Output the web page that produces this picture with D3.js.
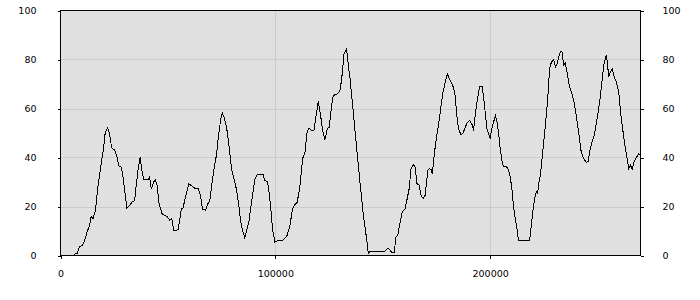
<!DOCTYPE html>
<html><head><meta charset="utf-8">
<script src="https://cdn.jsdelivr.net/npm/d3@7"></script>
<style>
html,body{margin:0;padding:0;background:#fff;}
svg{display:block;}
text{font-family:"DejaVu Sans",Verdana,sans-serif;font-size:9.5px;fill:#000;}
</style></head>
<body><svg id="c" width="700" height="300"></svg>
<script>
// x positions (in thousands) and values
const xs = [0,5.6,6.1,7.3,7.9,8.9,10.1,11.2,12.5,13.5,14.3,15.1,16.2,17.4,19.0,20.1,20.6,21.2,21.9,22.8,23.8,25.2,26.1,27.2,28.3,29.1,29.8,30.9,32.2,33.4,34.5,35.3,36.1,37.1,37.8,38.7,40.7,41.5,42.3,43.4,44.2,45.0,45.8,46.4,47.3,48.5,49.6,50.8,51.8,52.7,54.7,55.5,56.2,57.0,58.6,59.8,61.7,62.8,64.1,65.2,66.1,67.5,68.5,69.5,70.8,72.1,72.6,73.4,74.6,75.3,76.1,77.3,78.3,78.8,79.6,80.8,81.9,83.0,83.9,85.0,85.8,86.6,87.8,88.9,89.4,90.5,91.5,94.3,95.1,96.4,97.1,97.9,98.7,99.8,101.3,103.4,104.5,105.5,106.8,108.0,109.1,110.2,111.4,112.7,113.8,114.8,115.6,116.9,118.0,118.9,120.0,121.1,122.0,123.1,124.2,125.1,126.2,127.0,128.8,130.1,130.9,132.0,133.2,134.0,134.8,136.3,137.9,139.4,141.0,142.5,143.3,144.1,151.1,152.3,153.4,154.2,155.4,156.1,157.0,158.1,159.1,160.4,161.2,162.3,163.2,164.3,165.1,165.9,166.9,167.9,168.9,169.7,171.0,171.6,172.5,173.1,174.1,175.2,176.7,177.9,179.1,180.1,181.4,182.9,183.7,184.5,185.3,186.4,187.3,188.4,189.5,190.4,191.5,192.3,193.1,194.1,195.1,196.2,196.9,197.7,198.5,199.2,200.0,200.8,201.6,202.4,203.2,203.9,204.7,205.5,206.2,207.8,208.6,209.4,210.2,210.9,211.7,212.5,213.2,218.4,219.0,220.0,220.7,221.5,222.1,222.6,223.4,224.6,225.7,226.8,227.7,228.5,229.6,230.4,231.1,231.9,232.7,233.5,234.2,235.0,235.8,237.0,238.1,238.9,240.1,241.2,242.3,243.5,244.8,245.6,246.3,247.5,248.5,249.8,251.0,252.1,252.9,254.1,254.7,255.2,256.0,256.8,257.8,258.8,259.9,260.7,261.9,263.0,263.8,264.5,265.3,266.1,266.9,268.1,269.2,270.0];
const values = [0,0,0,1,1,3.8,4,6,10,12,16,15,18,28,38,44,49,51,52,50,44,43,41,36.5,36,32,27,19.5,20.4,22,22.4,29,35,40,35,31,31,32,27,30,31,28.5,21.8,19.5,17,16.3,16,14.5,15,10.2,10.5,14.3,19,19.3,25.5,29.3,28,27.2,27.2,24.5,19,18.4,21,22.5,31.5,38.8,40.8,47.6,55.8,58.2,56.5,52.4,46,42,35.4,31.3,27,20.4,13.6,9.5,7.2,9.8,14.3,21.8,24.5,31.3,33,33,30.6,30,25.9,19,10.9,5.4,6.1,6.1,7,8.2,12.2,19,20.8,21.8,27.9,39.5,42.2,50.3,52,51,51,56.5,63,57.1,51,47.3,51.7,52.4,61.2,65.3,66,67.3,72.1,82.3,84.2,77.6,72.1,58.5,43.5,30,16.3,6.8,0.7,1.8,1.8,3,2.3,1.1,1.1,7.5,8.4,13.6,18,19,22.4,27.2,35.6,37,36,29.3,28.8,24.2,23.4,24.5,34.7,35.4,35.1,33.3,42.2,49,58,66,70.7,74.1,71.4,68.7,65.3,57.1,51.7,49.3,49.7,52.4,54.4,55.1,53.7,51,57.8,63.9,69.1,69.1,65.3,58.5,51.7,49.7,47.9,51.7,54.4,57.1,54.4,50.3,43.5,38.8,36.3,36.1,34.7,32,26.5,19.7,15,10.9,6.1,6.1,10.9,19,23.1,25.9,25.2,29.3,33,43.2,53,63.9,76.2,78.9,79.9,76.9,78.2,81,83.3,83,77.6,78.6,74.8,68.7,66,63.3,57.1,50.3,42.9,39.5,38.1,38.4,42.2,46.5,49,55.8,62.6,71.4,77.6,81.9,77.6,72.8,74.8,76.2,72.8,70.7,66.7,58.5,50.3,43.5,39.5,35.4,37,35.1,38.1,40.1,41.5,41];
const yTicks = [0,20,40,60,80,100];
const xTicks = [0,100000,200000];
const xMax = 270000;

const svg = d3.select("#c");
const L = 60.5, R = 640.5, T = 10.5, B = 255.5;
const x = d3.scaleLinear().domain([0, xMax]).range([L, R]);
const y = d3.scaleLinear().domain([0, 100]).range([B, T]);

svg.append("rect").attr("x", L).attr("y", T).attr("width", R - L).attr("height", B - T).attr("fill", "#e0e0e0");

// gridlines
svg.append("g").selectAll("line").data(yTicks.filter(d => d > 0 && d < 100)).join("line")
  .attr("x1", L).attr("x2", R).attr("y1", d => Math.round(y(d)) + 0.5).attr("y2", d => Math.round(y(d)) + 0.5)
  .attr("stroke", "#cbcbcb").attr("shape-rendering", "crispEdges");
svg.append("g").selectAll("line").data(xTicks.filter(d => d > 0)).join("line")
  .attr("y1", T).attr("y2", B).attr("x1", d => Math.round(x(d)) + 0.5).attr("x2", d => Math.round(x(d)) + 0.5)
  .attr("stroke", "#cbcbcb").attr("shape-rendering", "crispEdges");

// line
const data = xs.map((d, i) => ({ x: d * 1000, v: values[i] }));
svg.append("path").datum(data)
  .attr("d", d3.line().x(d => x(d.x)).y(d => y(d.v)))
  .attr("fill", "none").attr("stroke", "#000").attr("stroke-width", 1)
  .attr("shape-rendering", "crispEdges");

// axes
function styleAxis(g) {
  g.select(".domain").remove();
  g.selectAll(".tick line").attr("stroke", "#000").attr("shape-rendering", "crispEdges");
  g.selectAll(".tick text").attr("fill", "#000");
}
svg.append("g").attr("transform", `translate(${L},0)`)
  .call(d3.axisLeft(y).tickValues(yTicks).tickSize(3).tickPadding(21).tickFormat(d3.format("d")))
  .call(styleAxis);
svg.append("g").attr("transform", `translate(${R},0)`)
  .call(d3.axisRight(y).tickValues(yTicks).tickSize(3).tickPadding(19).tickFormat(d3.format("d")))
  .call(styleAxis);
svg.append("g").attr("transform", `translate(0,${B})`)
  .call(d3.axisBottom(x).tickValues(xTicks).tickSize(3).tickPadding(12).tickFormat(d3.format("d")))
  .call(styleAxis);
svg.selectAll(".tick text").attr("font-family", "DejaVu Sans, Verdana, sans-serif").attr("font-size", "9.5px");

// frame
svg.append("rect").attr("x", L).attr("y", T).attr("width", R - L).attr("height", B - T)
  .attr("fill", "none").attr("stroke", "#000").attr("shape-rendering", "crispEdges");
</script></body></html>
